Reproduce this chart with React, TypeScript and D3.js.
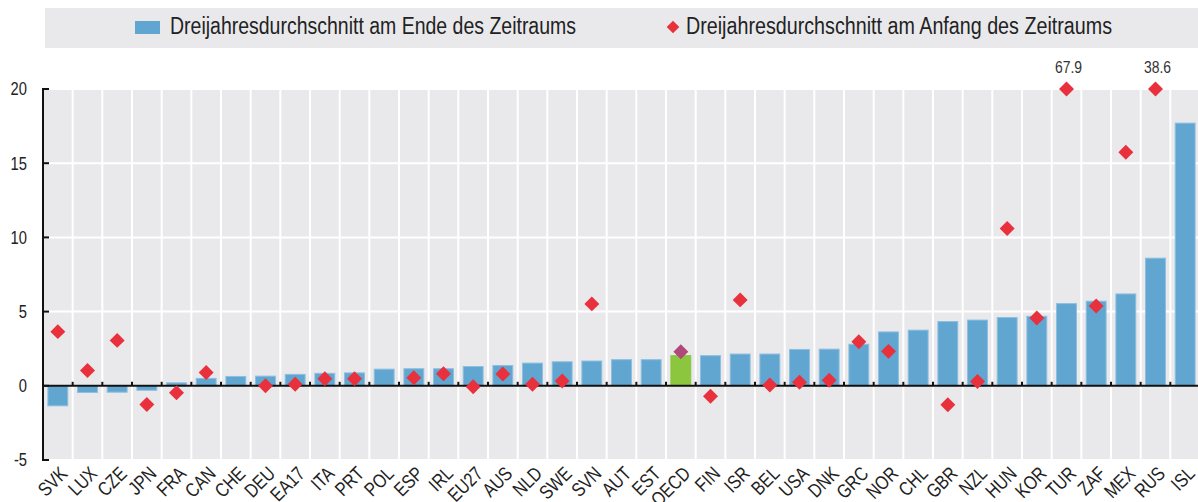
import React from 'react';
import * as d3 from 'd3';

const categories = [
  'SVK', 'LUX', 'CZE', 'JPN', 'FRA', 'CAN', 'CHE', 'DEU', 'EA17', 'ITA', 'PRT', 'POL', 'ESP',
  'IRL', 'EU27', 'AUS', 'NLD', 'SWE', 'SVN', 'AUT', 'EST', 'OECD', 'FIN', 'ISR', 'BEL', 'USA',
  'DNK', 'GRC', 'NOR', 'CHL', 'GBR', 'NZL', 'HUN', 'KOR', 'TUR', 'ZAF', 'MEX', 'RUS', 'ISL',
];

// Dreijahresdurchschnitt am Ende des Zeitraums
const endValues = [
  -1.35, -0.45, -0.43, -0.3, 0.2, 0.5, 0.63, 0.65, 0.77, 0.84, 0.87, 1.12, 1.15,
  1.15, 1.3, 1.37, 1.53, 1.62, 1.67, 1.76, 1.76, 2.03, 2.03, 2.14, 2.14, 2.45,
  2.47, 2.8, 3.63, 3.75, 4.33, 4.43, 4.6, 4.68, 5.54, 5.7, 6.19, 8.6, 17.7,
];

// Dreijahresdurchschnitt am Anfang des Zeitraums (null = kein Wert)
const startValues: (number | null)[] = [
  3.65, 1.03, 3.06, -1.26, -0.47, 0.9, null, 0.0, 0.1, 0.47, 0.47, null, 0.54,
  0.81, -0.07, 0.79, 0.11, 0.32, 5.52, null, null, 2.3, -0.7, 5.79, 0.05, 0.24,
  0.38, 2.97, 2.32, null, -1.28, 0.29, 10.6, 4.57, 67.9, 5.38, 15.74, 38.6, null,
];

const yTicks = [-5, 0, 5, 10, 15, 20];

const legendLabels = [
  'Dreijahresdurchschnitt am Ende des Zeitraums',
  'Dreijahresdurchschnitt am Anfang des Zeitraums',
];

const W = 1198;
const H = 502;
const FONT = "'Liberation Sans', Arial, sans-serif";
const NARROW = 0.82; // horizontal squeeze to mimic a condensed face
const BLUE = '#61a5d1';
const GREEN = '#8cc63f';
const RED = '#e8313c';
const OECD_DOT = '#b0487a';
const BG = '#e9e9ec';
const TEXT = '#222';

const App = () => {
  const plot = { left: 43, right: 1200, top: 89, bottom: 460 };

  const x = d3
    .scaleBand<string>()
    .domain(categories)
    .range([plot.left, plot.right])
    .paddingInner(0.33)
    .paddingOuter(0.165);

  const y = d3.scaleLinear().domain([-5, 20]).range([plot.bottom, plot.top]);
  const [yMin, yMax] = y.domain();

  const step = x.step();
  const boundaries = categories.map((c) => (x(c) as number) - (step * 0.33) / 2);
  boundaries.push(plot.right);

  const diamond = d3.symbol(d3.symbolSquare, 112)() as string;
  const legendDiamond = d3.symbol(d3.symbolSquare, 80)() as string;

  return (
    <div style={{ position: 'absolute', left: 0, top: 0 }}>
      <svg width={W} height={H} style={{ display: 'block', fontFamily: FONT }}>
        {/* legend */}
        <rect x={45} y={8} width={W - 45} height={40} fill={BG} />
        <rect x={135} y={21} width={25} height={13} fill={BLUE} />
        <text x={170} y={26} dy="0.35em" fontSize={23} fill={TEXT} textLength={406} lengthAdjust="spacingAndGlyphs">
          {legendLabels[0]}
        </text>
        <path d={legendDiamond} transform="translate(673,27) rotate(45)" fill={RED} />
        <text x={686} y={26} dy="0.35em" fontSize={23} fill={TEXT} textLength={426} lengthAdjust="spacingAndGlyphs">
          {legendLabels[1]}
        </text>

        {/* plot background */}
        <rect x={plot.left} y={plot.top} width={plot.right - plot.left} height={plot.bottom - plot.top} fill={BG} />

        {/* grid */}
        {yTicks.map((t) => (
          <line key={'h' + t} x1={plot.left} x2={plot.right} y1={y(t)} y2={y(t)} stroke="#fff" strokeWidth={2} />
        ))}
        {boundaries.map((b, i) => (
          <line key={'v' + i} x1={b} x2={b} y1={plot.top} y2={plot.bottom} stroke="#fff" strokeWidth={2} />
        ))}

        {/* bars */}
        {categories.map((c, i) => {
          const v = endValues[i];
          return (
            <rect
              key={'b' + c}
              x={x(c)}
              y={y(Math.max(0, v))}
              width={x.bandwidth()}
              height={Math.abs(y(v) - y(0))}
              fill={c === 'OECD' ? GREEN : BLUE}
              stroke={c === 'OECD' ? GREEN : '#8cbfe0'}
              strokeWidth={1}
            />
          );
        })}

        {/* zero line and ticks */}
        <line x1={plot.left} x2={plot.right} y1={y(0)} y2={y(0)} stroke="#111" strokeWidth={2} />
        {boundaries.slice(1, -1).map((b, i) => (
          <line key={'t' + i} x1={b} x2={b} y1={y(0) - 4} y2={y(0)} stroke="#111" strokeWidth={2} />
        ))}

        {/* diamonds */}
        {categories.map((c, i) => {
          const v = startValues[i];
          if (v === null) return null;
          const cx = (x(c) as number) + x.bandwidth() / 2;
          const clipped = v > yMax;
          const cy = y(clipped ? yMax : Math.max(v, yMin));
          return (
            <g key={'d' + c}>
              <path d={diamond} transform={`translate(${cx},${cy}) rotate(45)`} fill={c === 'OECD' ? OECD_DOT : RED} />
              {clipped && (
                <text
                  transform={`translate(${cx + 2},${cy - 16}) scale(${NARROW},1)`}
                  textAnchor="middle"
                  fontSize={17}
                  fill="#333"
                >
                  {d3.format('.1f')(v)}
                </text>
              )}
            </g>
          );
        })}

        {/* y axis */}
        <line x1={plot.left} x2={plot.left} y1={plot.top - 1} y2={plot.bottom + 1} stroke="#111" strokeWidth={2} />
        {yTicks.map((t) => (
          <g key={'y' + t}>
            <line x1={plot.left} x2={plot.left + 6} y1={y(t)} y2={y(t)} stroke="#111" strokeWidth={2} />
            <text
              transform={`translate(27,${y(t)}) scale(${NARROW},1)`}
              dy="0.35em"
              textAnchor="end"
              fontSize={18}
              fill={TEXT}
            >
              {t}
            </text>
          </g>
        ))}

        {/* x labels */}
        {categories.map((c) => {
          const cx = (x(c) as number) + x.bandwidth() / 2 + 6;
          return (
            <text
              key={'x' + c}
              transform={`translate(${cx},${plot.bottom + 10}) rotate(-45) scale(${NARROW},1)`}
              textAnchor="end"
              dy="0.35em"
              fontSize={19.5}
              fill={TEXT}
            >
              {c}
            </text>
          );
        })}
      </svg>
    </div>
  );
};

export default App;
